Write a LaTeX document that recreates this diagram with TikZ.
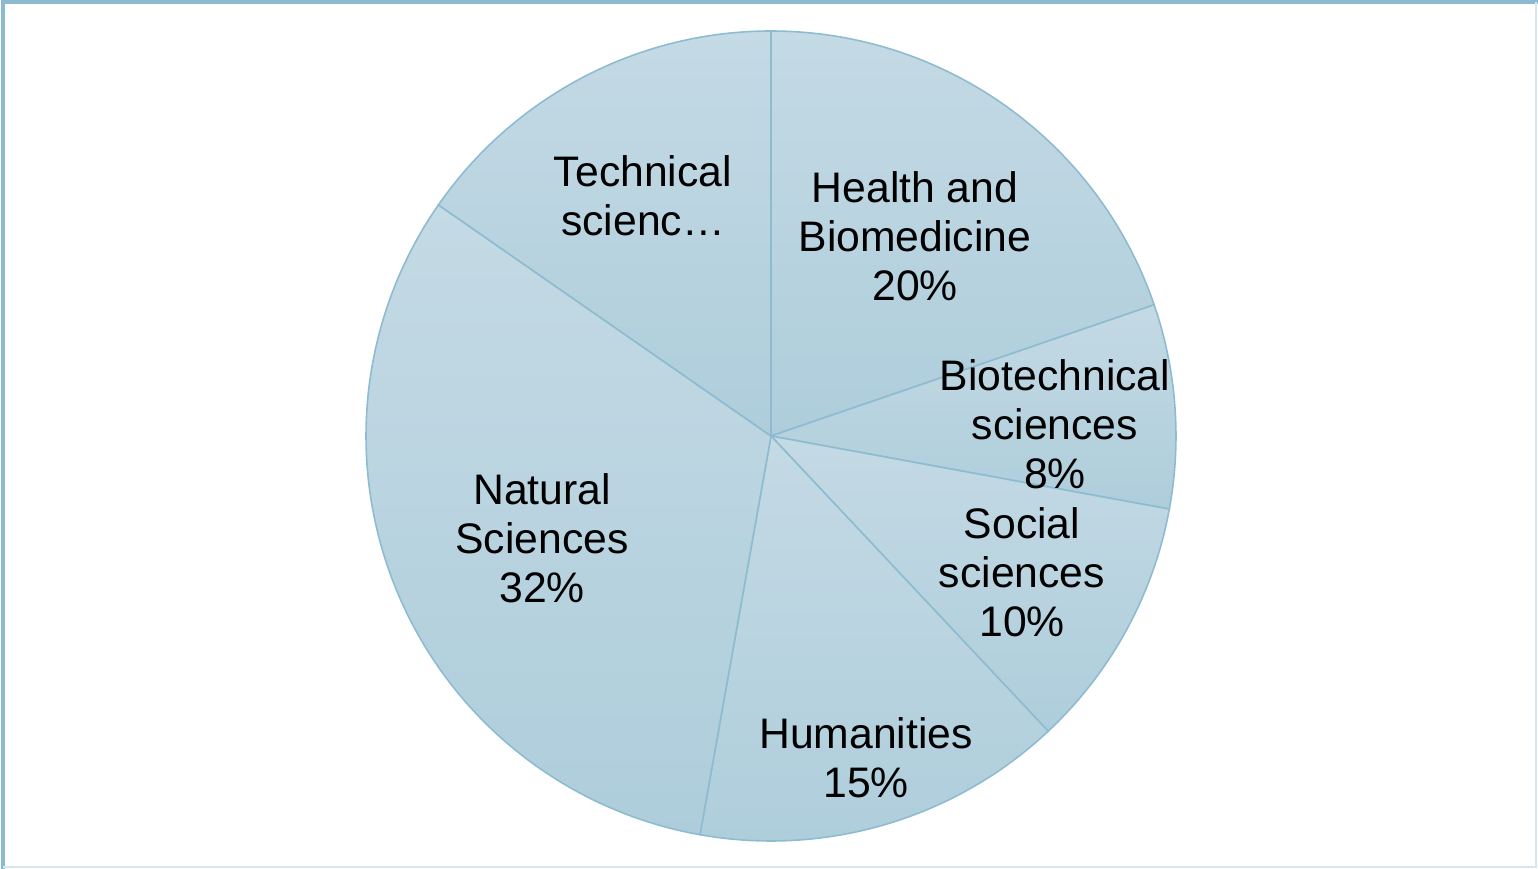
\documentclass[tikz,border=0pt]{standalone}
\usepackage{fontspec}
\setmainfont{Liberation Sans}
\definecolor{pietop}{HTML}{C4DAE5}
\definecolor{piebot}{HTML}{AECDDB}
\definecolor{pieedge}{HTML}{8DBCD1}
\definecolor{frameblue}{HTML}{8CBAD0}
\begin{document}
\begin{tikzpicture}[
    slice/.style = {top color=pietop, bottom color=piebot, draw=pieedge, line width=0.45pt},
    lbl/.style = {align=center, inner sep=0pt, font=\fontsize{12.15}{13.9}\selectfont}]
\useasboundingbox (0,0) rectangle (15.38,-8.69);
\draw[frameblue, line width=0.9pt] (0.03,-8.69) -- (0.03,-0.02) -- (15.38,-0.02);
\draw[frameblue!35, line width=0.6pt] (15.36,-0.02) -- (15.36,-8.67) -- (0.03,-8.67);
\coordinate (c) at (7.71,-4.36);
\begin{scope}
    \shade[slice] (c) -- ++(90:4.05) arc (90:18.9:4.05) -- cycle;
    \shade[slice] (c) -- ++(18.9:4.05) arc (18.9:-10.4:4.05) -- cycle;
    \shade[slice] (c) -- ++(-10.4:4.05) arc (-10.4:-46.8:4.05) -- cycle;
    \shade[slice] (c) -- ++(-46.8:4.05) arc (-46.8:-100.1:4.05) -- cycle;
    \shade[slice] (c) -- ++(-100.1:4.05) arc (-100.1:-214.8:4.05) -- cycle;
    \shade[slice] (c) -- ++(145.2:4.05) arc (145.2:90:4.05) -- cycle;
    \node[lbl] (health) at (9.15,-2.36) {Health and\\Biomedicine\\20\%};
    \node[lbl] (biotech) at (10.55,-4.24) {Biotechnical\\sciences\\8\%};
    \node[lbl] (social) at (10.22,-5.72) {Social\\sciences\\10\%};
    \node[lbl] (humanities) at (8.66,-7.58) {Humanities\\15\%};
    \node[lbl] (natural) at (5.42,-5.38) {Natural\\Sciences\\32\%};
    \node[lbl] (technical) at (6.43,-1.96) {Technical\\scienc…};
\end{scope}
%% slices go clockwise from the top
\end{tikzpicture}
\end{document}
